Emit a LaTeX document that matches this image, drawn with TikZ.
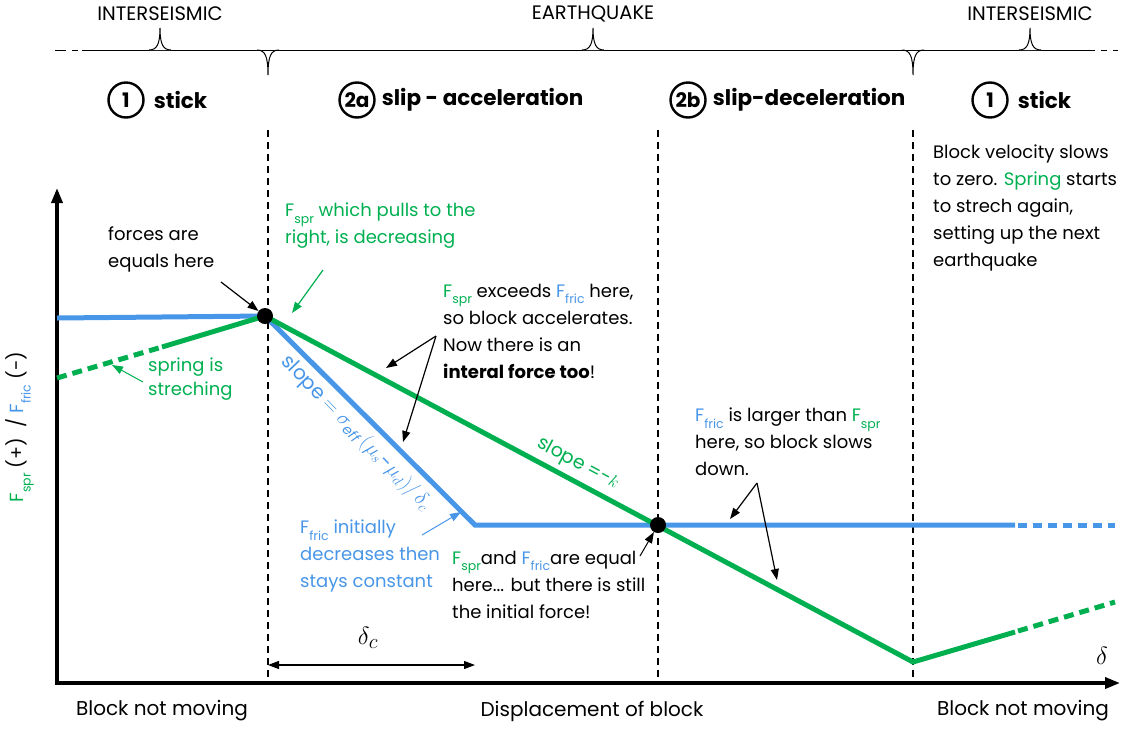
\documentclass[tikz,border=0pt]{standalone}
\usepackage{fontspec}
\setmainfont{Poppins}
\usetikzlibrary{arrows.meta}

\definecolor{sprgreen}{RGB}{0,176,80}
\definecolor{fricblue}{RGB}{72,150,232}

\newcommand{\Fspr}{{\color{sprgreen}F\raisebox{-0.65ex}{\fontsize{12.5}{12.5}\selectfont spr}}}
\newcommand{\Ffric}{{\color{fricblue}F\raisebox{-0.65ex}{\fontsize{12.5}{12.5}\selectfont fric}}}

\tikzset{
  sprline/.style={sprgreen,line width=5pt},
  fricline/.style={fricblue,line width=5pt},
  phaseline/.style={line width=1.3pt,dash pattern=on 7pt off 5pt},
  note/.style={align=left,anchor=north west,inner sep=0pt,font=\fontsize{18}{27}\selectfont},
  pointer/.style={-{Triangle[length=11pt,width=8pt]},line width=1.2pt},
  phasenum/.style={circle,draw,line width=2.4pt,minimum size=35pt,inner sep=0pt,font=\fontsize{20}{20}\selectfont\bfseries},
  phasename/.style={anchor=west,inner sep=0pt,font=\fontsize{21.5}{21.5}\selectfont\bfseries},
  toplab/.style={font=\fontsize{19.5}{19.5}\selectfont},
  botlab/.style={font=\fontsize{20}{20}\selectfont},
  eqdot/.style={circle,fill=black,minimum size=16pt,inner sep=0pt},
}

\begin{document}
\begin{tikzpicture}[x=1pt,y=-1pt]
\useasboundingbox (0,0) rectangle (1134,729);

% time line with braces
\draw[line width=1pt] (55,50) -- (66,50) (72,50) -- (78,50);%left dashes
\draw[line width=1pt] (82,50) -- (1095,50);
\draw[line width=1pt] (1101,50) -- (1107,50) (1113,50) -- (1118,50);%right dashes
\foreach \x in {160,593,1030}
  \draw[line width=1pt,fill=white] (\x-11,50) .. controls (\x-3,50) and (\x,44) .. (\x,28) .. controls (\x,44) and (\x+3,50) .. (\x+11,50);
\foreach \x in {268,913}
  \draw[line width=1pt] (\x-11,50) .. controls (\x-3,50) and (\x,56) .. (\x,75) .. controls (\x,56) and (\x+3,50) .. (\x+11,50);
\node[toplab] (inter1) at (160,14) {INTERSEISMIC};
\node[toplab] (quake) at (593,14) {EARTHQUAKE};
\node[toplab] (inter2) at (1030,14) {INTERSEISMIC};

% phases
\node[phasenum] (ph1) at (126,100) {1};
\node[phasename] (ph1txt) at ([xshift=9pt]ph1.east) {stick};
\node[phasenum] (ph2a) at (357,100) {2a};
\node[phasename] (ph2atxt) at ([xshift=6pt]ph2a.east) {slip - acceleration};
\node[phasenum] (ph2b) at (688,100) {2b};
\node[phasename] (ph2btxt) at ([xshift=6pt]ph2b.east) {slip-deceleration};
\node[phasenum] (ph1b) at (990,100) {1};
\node[phasename] (ph1btxt) at ([xshift=9pt]ph1b.east) {stick};

% phase boundaries
\foreach \x in {268,658,913}
  \draw[phaseline] (\x,130) -- (\x,683);

% axes
\draw[line width=3.5pt,-{Triangle[length=15pt,width=11pt]}] (57,684) -- (57,188);
\draw[line width=3.5pt,-{Triangle[length=15pt,width=11pt]}] (55,683) -- (1120,683);
\node[rotate=90,font=\fontsize{19}{19}\selectfont] (ylab) at (20,427)
  {\Fspr{} (+) \ /\ \Ffric{} (-)};
\node[font=\fontsize{30}{30}\selectfont] (dlab) at (1102,656) {$\delta$};

% key points
\coordinate (start) at (57,318);
\coordinate (peak) at (265,316);
\coordinate (weak) at (475,525);
\coordinate (cross) at (658,525);
\coordinate (low) at (913,662);

% friction
\draw[fricline] (start) -- (peak) -- (weak) -- (1015,525);
\draw[fricline,dash pattern=on 9pt off 6pt] (1018,525) -- (1115,525);

% spring
\draw[sprline,dash pattern=on 10pt off 6pt] (57,378) -- (162,347);
\draw[sprline] (162,347) -- (peak) -- (low) -- (1015,632);
\draw[sprline,dash pattern=on 10pt off 6pt] (1018,631) -- (1115,602);

\node[eqdot] (dot1) at (peak) {};
\node[eqdot] (dot2) at (cross) {};

% slope labels
\node[fricblue,rotate=-46,font=\fontsize{20}{20}\selectfont] (slfric) at (356,433)
  {slope $=\sigma_{\mathit{eff}}\,(\mu_s\mbox{-}\mu_d)/\,\delta_c$};
\node[sprgreen,rotate=-28,font=\fontsize{19}{19}\selectfont] (slspr) at (578,464) {slope =-$k$};

% delta_c
\coordinate (dcl) at (268,665);
\coordinate (dcr) at (475,665);
\draw[line width=1.2pt,{Triangle[length=11pt,width=8pt]}-{Triangle[length=11pt,width=8pt]}] (dcl) -- (dcr);
\node[font=\fontsize{30}{30}\selectfont] (dc) at (368,638) {$\delta_c$};

% notes
\node[note] (n1) at (108,227) {forces are\\equals here};
\draw[pointer] (221,282) -- (dot1);

\node[note,sprgreen] (n2) at (285,203) {\Fspr{} which pulls to the\\right, is decreasing};
\draw[pointer,sprgreen] (323,270) -- (292,313);

\node[note,sprgreen,font=\fontsize{18}{24}\selectfont] (n3) at (148,358) {spring is\\streching};
\draw[pointer,sprgreen,line width=1pt] (143,382) -- (112,365);

\node[note] (n4) at (443,284) {\Fspr{} exceeds \Ffric{} here,\\so block accelerates.\\Now there is an\\\textbf{interal force too}!};
\coordinate (n4p) at (436,336);
\draw[pointer] (n4p) -- (386,368);
\draw[pointer] (n4p) -- (403,442);

\node[note,fricblue] (n5) at (300,520) {\Ffric{} initially\\decreases then\\stays constant};
\draw[pointer,fricblue,line width=1pt] (422,535) -- (461,512);

\node[note] (n6) at (452,551) {\Fspr{}and \Ffric{}are equal\\here... but there is still\\the initial force!};
\draw[pointer,line width=1pt] (640,556) -- (dot2);

\node[note] (n7) at (695,408) {\Ffric{} is larger than \Fspr\\here, so block slows\\down.};
\coordinate (n7p) at (757,483);
\draw[pointer] (n7p) -- (730,519);
\draw[pointer] (n7p) -- (777,580);

\node[note] (n8) at (933,145) {Block velocity slows\\to zero. {\color{sprgreen}Spring} starts\\to strech again,\\setting up the next\\earthquake};

% bottom labels
\node[botlab] (b1) at (162,711) {Block not moving};
\node[botlab] (b2) at (592,711) {Displacement of block};
\node[botlab] (b3) at (1023,711) {Block not moving};
\end{tikzpicture}
\end{document}
